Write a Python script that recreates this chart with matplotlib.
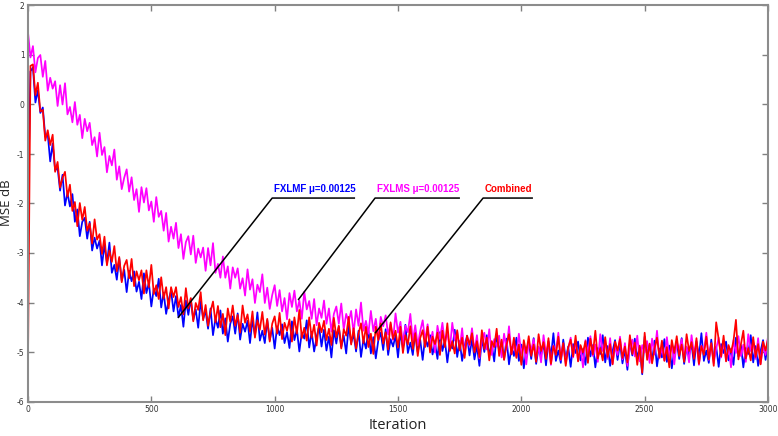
import numpy as np
import matplotlib
matplotlib.use("Agg")
from matplotlib import pyplot as plt

plt.rcParams["axes.unicode_minus"] = False

# iteration index of each stored sample (one sample every 10 iterations)
iterations = np.arange(0, 3001, 10)

# FXLMF mu=0.00125 (blue)
fxlmf = [
    -2.00, 0.67, 0.75, 0.04, 0.29, -0.17, -0.06, -0.65, -0.60, -1.15,
    -0.79, -1.33, -1.28, -1.74, -1.42, -2.04, -1.78, -2.06, -1.81, -2.37,
    -2.12, -2.66, -2.37, -2.29, -2.71, -2.37, -2.95, -2.69, -2.91, -2.75,
    -3.25, -2.83, -3.21, -2.79, -3.40, -3.24, -3.54, -3.11, -3.56, -3.34,
    -3.79, -3.36, -3.57, -3.37, -3.78, -3.58, -3.93, -3.41, -3.81, -3.60,
    -4.08, -3.72, -3.87, -3.52, -4.10, -3.80, -4.23, -3.95, -3.76, -4.18,
    -3.87, -4.30, -4.05, -4.49, -3.96, -4.25, -3.93, -4.35, -4.14, -4.51,
    -3.97, -4.33, -4.17, -4.53, -4.12, -4.66, -4.32, -4.51, -4.16, -4.63,
    -4.32, -4.79, -4.43, -4.28, -4.63, -4.22, -4.75, -4.43, -4.59, -4.37,
    -4.82, -4.34, -4.67, -4.20, -4.77, -4.57, -4.82, -4.36, -4.76, -4.51,
    -4.93, -4.48, -4.66, -4.44, -4.82, -4.60, -4.92, -4.38, -4.76, -4.54,
    -4.99, -4.61, -4.73, -4.36, -4.91, -4.59, -4.99, -4.70, -4.48, -4.89,
    -4.55, -4.97, -4.69, -5.11, -4.56, -4.83, -4.49, -4.90, -4.67, -5.03,
    -4.47, -4.82, -4.64, -4.99, -4.57, -5.10, -4.74, -4.93, -4.56, -5.03,
    -4.70, -5.13, -4.77, -4.61, -4.96, -4.54, -5.06, -4.74, -4.89, -4.67,
    -5.11, -4.60, -4.93, -4.45, -5.02, -4.81, -5.06, -4.60, -5.00, -4.75,
    -5.16, -4.70, -4.89, -4.66, -5.05, -4.82, -5.14, -4.60, -4.98, -4.76,
    -5.21, -4.80, -4.93, -4.55, -5.10, -4.78, -5.18, -4.88, -4.67, -5.07,
    -4.73, -5.15, -4.87, -5.28, -4.74, -5.00, -4.66, -5.07, -4.84, -5.19,
    -4.64, -4.98, -4.80, -5.15, -4.73, -5.25, -4.90, -5.08, -4.71, -5.18,
    -4.85, -5.33, -4.96, -4.80, -5.14, -4.72, -5.24, -4.91, -5.06, -4.83,
    -5.27, -4.78, -5.10, -4.62, -5.18, -4.97, -5.22, -4.75, -5.15, -4.89,
    -5.30, -4.84, -5.02, -4.79, -5.17, -4.94, -5.26, -4.71, -5.09, -4.86,
    -5.31, -4.92, -5.04, -4.66, -5.21, -4.88, -5.28, -4.98, -4.76, -5.16,
    -4.82, -5.23, -4.95, -5.36, -4.81, -5.07, -4.73, -5.13, -4.90, -5.45,
    -4.69, -5.03, -4.85, -5.19, -4.77, -5.29, -4.93, -5.11, -4.74, -5.20,
    -4.87, -5.33, -4.96, -4.80, -5.14, -4.72, -5.24, -4.91, -5.06, -4.83,
    -5.27, -4.78, -5.10, -4.62, -5.18, -4.97, -5.22, -4.75, -5.15, -4.89,
    -5.30, -4.84, -5.02, -4.79, -5.17, -4.94, -5.26, -4.71, -5.09, -4.86,
    -5.31, -4.92, -5.04, -4.66, -5.21, -4.88, -5.28, -4.98, -4.76, -5.16,
    -4.82,
]

# FXLMS mu=0.00125 (magenta)
fxlms = [
    1.46, 0.95, 1.18, 0.65, 0.94, 1.00, 0.56, 0.88, 0.28, 0.54,
    0.32, 0.47, -0.03, 0.39, 0.00, 0.43, -0.20, -0.05, -0.36, 0.05,
    -0.41, -0.21, -0.68, -0.29, -0.54, -0.37, -0.82, -0.66, -1.05, -0.57,
    -1.02, -0.86, -1.37, -1.04, -1.23, -0.91, -1.52, -1.25, -1.71, -1.48,
    -1.31, -1.76, -1.47, -1.93, -1.71, -2.17, -1.67, -1.98, -1.69, -2.14,
    -1.96, -2.37, -1.87, -2.27, -2.15, -2.55, -2.19, -2.77, -2.47, -2.71,
    -2.39, -2.90, -2.62, -3.12, -2.78, -2.66, -3.03, -2.65, -3.20, -2.91,
    -3.09, -2.89, -3.36, -2.90, -3.25, -2.80, -3.40, -3.22, -3.50, -3.07,
    -3.50, -3.27, -3.72, -3.29, -3.50, -3.31, -3.72, -3.51, -3.86, -3.33,
    -3.74, -3.53, -4.01, -3.64, -3.79, -3.43, -4.01, -3.70, -4.13, -3.85,
    -3.65, -4.07, -3.75, -4.18, -3.91, -4.34, -3.81, -4.09, -3.76, -4.18,
    -3.96, -4.33, -3.78, -4.14, -3.97, -4.33, -3.93, -4.46, -4.12, -4.31,
    -3.96, -4.43, -4.12, -4.59, -4.23, -4.08, -4.43, -4.02, -4.55, -4.23,
    -4.39, -4.17, -4.62, -4.14, -4.47, -4.00, -4.57, -4.37, -4.63, -4.17,
    -4.58, -4.33, -4.75, -4.29, -4.48, -4.26, -4.65, -4.43, -4.76, -4.22,
    -4.61, -4.39, -4.85, -4.47, -4.60, -4.23, -4.78, -4.46, -4.87, -4.58,
    -4.36, -4.77, -4.44, -4.86, -4.59, -5.01, -4.47, -4.74, -4.41, -4.82,
    -4.60, -4.96, -4.41, -4.76, -4.59, -4.94, -4.52, -5.05, -4.70, -4.88,
    -4.52, -4.99, -4.66, -5.13, -4.76, -4.61, -4.95, -4.54, -5.06, -4.74,
    -4.89, -4.67, -5.11, -4.63, -4.95, -4.48, -5.04, -4.84, -5.09, -4.63,
    -5.03, -4.84, -5.25, -4.79, -4.97, -4.74, -5.12, -4.89, -5.21, -4.66,
    -5.04, -4.81, -5.26, -4.87, -4.99, -4.61, -5.16, -4.83, -5.23, -4.93,
    -4.71, -5.11, -4.77, -5.18, -4.90, -5.31, -4.76, -5.02, -4.68, -5.08,
    -4.85, -5.20, -4.64, -4.98, -4.80, -5.14, -4.72, -5.24, -4.88, -5.06,
    -4.69, -5.15, -4.82, -5.28, -4.91, -4.75, -5.09, -4.67, -5.19, -4.86,
    -5.01, -4.78, -5.22, -4.73, -5.05, -4.57, -5.13, -4.92, -5.17, -4.70,
    -5.10, -4.84, -5.25, -4.79, -4.97, -4.74, -5.12, -4.89, -5.21, -4.66,
    -5.04, -4.81, -5.26, -4.87, -4.99, -4.61, -5.16, -4.83, -5.23, -4.93,
    -4.71, -5.11, -4.77, -5.18, -4.90, -5.31, -4.76, -5.02, -4.68, -5.08,
    -4.85, -5.20, -4.64, -4.98, -4.80, -5.14, -4.72, -5.24, -4.88, -5.06,
    -4.69,
]

# Combined (red)
combined = [
    -5.20, 0.78, 0.81, 0.19, 0.44, -0.14, -0.11, -0.73, -0.52, -0.82,
    -0.61, -1.36, -1.16, -1.68, -1.48, -1.36, -1.86, -1.62, -2.15, -1.97,
    -2.46, -1.99, -2.33, -2.07, -2.55, -2.40, -2.81, -2.32, -2.73, -2.62,
    -3.02, -2.67, -3.25, -2.95, -3.18, -2.86, -3.37, -3.08, -3.59, -3.26,
    -3.14, -3.51, -3.12, -3.67, -3.37, -3.55, -3.35, -3.82, -3.35, -3.69,
    -3.24, -3.83, -3.65, -3.93, -3.49, -3.92, -3.69, -4.12, -3.69, -3.89,
    -3.69, -4.09, -3.89, -4.24, -3.71, -4.12, -3.91, -4.38, -4.01, -4.15,
    -3.79, -4.36, -4.05, -4.47, -4.18, -3.98, -4.40, -4.07, -4.50, -4.23,
    -4.66, -4.12, -4.39, -4.06, -4.47, -4.25, -4.61, -4.06, -4.41, -4.24,
    -4.59, -4.18, -4.71, -4.36, -4.55, -4.19, -4.65, -4.33, -4.79, -4.43,
    -4.28, -4.63, -4.21, -4.74, -4.41, -4.57, -4.34, -4.79, -4.30, -4.63,
    -4.15, -4.72, -4.51, -4.77, -4.30, -4.71, -4.45, -4.87, -4.41, -4.60,
    -4.37, -4.76, -4.53, -4.86, -4.31, -4.70, -4.47, -4.93, -4.54, -4.67,
    -4.29, -4.85, -4.52, -4.93, -4.63, -4.42, -4.82, -4.49, -4.90, -4.63,
    -5.04, -4.49, -4.76, -4.42, -4.83, -4.60, -4.95, -4.40, -4.74, -4.57,
    -4.91, -4.49, -5.02, -4.66, -4.85, -4.48, -4.94, -4.62, -5.08, -4.72,
    -4.56, -4.90, -4.49, -5.01, -4.69, -4.84, -4.61, -5.06, -4.57, -4.90,
    -4.42, -4.98, -4.78, -5.03, -4.56, -4.97, -4.71, -5.12, -4.67, -4.85,
    -4.62, -5.01, -4.78, -5.10, -4.56, -4.94, -4.71, -5.17, -4.78, -4.90,
    -4.53, -5.08, -4.75, -5.16, -4.86, -4.64, -5.05, -4.71, -5.12, -4.85,
    -5.26, -4.76, -5.02, -4.68, -5.08, -4.85, -5.20, -4.64, -4.98, -4.80,
    -5.14, -4.72, -5.24, -4.88, -5.06, -4.69, -5.15, -4.82, -5.28, -4.91,
    -4.75, -5.09, -4.67, -5.19, -4.86, -5.01, -4.78, -5.22, -4.73, -5.05,
    -4.57, -5.13, -4.92, -5.17, -4.70, -5.10, -4.84, -5.25, -4.79, -4.97,
    -4.74, -5.12, -4.89, -5.21, -4.66, -5.04, -4.81, -5.26, -4.87, -5.42,
    -4.61, -5.16, -4.83, -5.23, -4.93, -4.71, -5.11, -4.77, -5.18, -4.90,
    -5.31, -4.76, -5.02, -4.68, -5.08, -4.85, -5.20, -4.64, -4.98, -4.80,
    -5.14, -4.72, -5.24, -4.88, -5.06, -4.69, -5.15, -4.82, -5.28, -4.40,
    -4.75, -5.09, -4.67, -5.19, -4.86, -5.01, -4.78, -4.35, -5.15, -4.85,
    -4.57, -5.13, -4.92, -5.17, -4.70, -5.10, -4.84, -5.25, -4.79, -4.97,
    -4.74,
]

series = [
    (fxlmf, "#0000ff"),
    (fxlms, "#ff00ff"),
    (combined, "#ff0000"),
]

# callouts: text, colour, tip of leader, left end of underline, right end of underline
callouts = [
    ("FXLMF \u03bc=0.00125", "#0000ff", (608, -4.31), (990, -1.89), (1326, -1.89)),
    ("FXLMS \u03bc=0.00125", "#ff00ff", (1095, -3.95), (1407, -1.89), (1751, -1.89)),
    ("Combined", "#ff0000", (1407, -4.62), (1845, -1.89), (2047, -1.89)),
]

fig = plt.figure(figsize=(7.78, 4.36), dpi=100)
ax = fig.add_axes([28 / 778, 34.5 / 436, 740 / 778, 396 / 436])

for vals, col in series:
    ax.plot(iterations, vals, color=col, lw=1.25)

for txt, col, tip, elbow, end in callouts:
    ax.plot([tip[0], elbow[0], end[0]], [tip[1], elbow[1], end[1]],
            color="black", lw=1.1, solid_capstyle="butt")
    ax.text(elbow[0] + 8, elbow[1] + 0.08, txt, color=col, fontsize=7,
            fontweight="bold", ha="left", va="bottom",
            family=["Liberation Sans Narrow", "Liberation Sans", "DejaVu Sans"])

ax.set_xlim(0, 3000)
ax.set_ylim(-6, 2)
ax.set_xticks(np.arange(0, 3001, 500))
ax.set_yticks(np.arange(-6, 3, 1))
ax.tick_params(direction="in", top=True, right=True, length=4, width=1,
               color="#808080", labelsize=5.5, labelcolor="#333333", pad=2.5)
for sp in ax.spines.values():
    sp.set_color("#8c8c8c")
    sp.set_linewidth(1.5)

fig.text(7 / 778, 1 - 203 / 436, "MSE dB", rotation=90, ha="center", va="center",
         fontsize=9.5, color="#222222", family=["Open Sans", "DejaVu Sans"])
fig.text(398 / 778, 1 - 425 / 436, "Iteration", ha="center", va="center",
         fontsize=10.5, color="#222222", family=["Open Sans", "DejaVu Sans"])

fig.savefig("out.png", dpi=100, facecolor="white")
